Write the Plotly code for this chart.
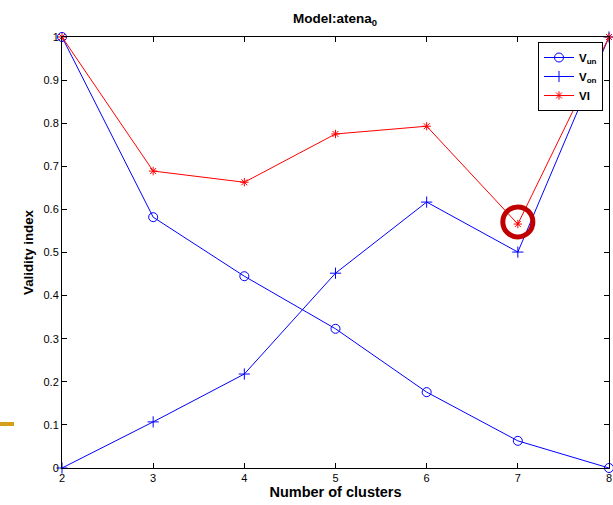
import plotly.graph_objects as go

clusters = [2, 3, 4, 5, 6, 7, 8]
v_un = [1.0, 0.582, 0.445, 0.323, 0.176, 0.063, 0.0]
v_on = [0.0, 0.107, 0.218, 0.452, 0.617, 0.501, 1.0]
vi = [1.0, 0.689, 0.663, 0.775, 0.793, 0.566, 1.0]

W, H = 613, 505
L, R, T, B = 62, 4, 37, 37
pw = W - L - R
ph = H - T - B

fig = go.Figure()
fig.add_trace(go.Scatter(x=clusters, y=v_un, mode="lines+markers", name="<b>V<sub>un</sub></b>",
                         line=dict(color="#0000ff", width=1),
                         marker=dict(symbol="circle-open", size=9, color="#0000ff", line=dict(width=1)),
                         cliponaxis=False))
fig.add_trace(go.Scatter(x=clusters, y=v_on, mode="lines+markers", name="<b>V<sub>on</sub></b>",
                         line=dict(color="#0000ff", width=1),
                         marker=dict(symbol="cross-thin-open", size=8, color="#0000ff", line=dict(width=1, color="#0000ff")),
                         cliponaxis=False))
fig.add_trace(go.Scatter(x=clusters, y=vi, mode="lines+markers", name="<b>VI</b>",
                         line=dict(color="#ff0000", width=1),
                         marker=dict(symbol="asterisk-open", size=7, color="#ff0000", line=dict(width=1, color="#ff0000")),
                         cliponaxis=False))

# highlight ring around the VI point at 7 clusters
fig.add_shape(type="circle", xref="x", yref="y",
              x0=7 - 0.165, x1=7 + 0.165, y0=0.571 - 0.0348, y1=0.571 + 0.0348,
              line=dict(color="#c00000", width=5))
# gold dash at left margin
fig.add_shape(type="line", xref="paper", yref="paper",
              x0=(0 - L) / pw, x1=(14 - L) / pw, y0=(468 - 424) / ph, y1=(468 - 424) / ph,
              line=dict(color="#d4a017", width=4))

axis_common = dict(showline=True, linecolor="black", linewidth=1, mirror="ticks",
                   ticks="inside", ticklen=5, tickcolor="black", showgrid=False, zeroline=False,
                   automargin=False,
                   tickfont=dict(family="Liberation Sans, Arial", size=11, color="black"))

fig.update_layout(
    width=W, height=H,
    margin=dict(l=L, r=R, t=T, b=B, autoexpand=False),
    paper_bgcolor="white", plot_bgcolor="white",
    font=dict(family="Liberation Sans, Arial", color="black"),
    title=dict(text="<b>Model:atena<sub>0</sub></b>", x=335 / W, xanchor="center",
               y=1 - 18 / H, yanchor="middle", font=dict(size=13.5, color="black")),
    xaxis=dict(range=[2, 8], dtick=1, tick0=2,
               title=dict(text="<b>Number of clusters</b>", font=dict(size=14.5), standoff=3),
               **axis_common),
    yaxis=dict(range=[0, 1], dtick=0.1, tick0=0, tickformat="~g",
               title=dict(text="<b>Validity index</b>", font=dict(size=13.3), standoff=6),
               **axis_common),
    legend=dict(x=(603 - L) / pw, y=1 - (42 - T) / ph, xanchor="right", yanchor="top",
                bordercolor="black", borderwidth=1, bgcolor="white",
                font=dict(size=11.5, color="black"), tracegroupgap=0, itemwidth=30),
    showlegend=True,
)

fig.write_html("out.html", config={"displayModeBar": False},
               post_script="document.body.style.margin='0';document.body.style.overflow='hidden';")
